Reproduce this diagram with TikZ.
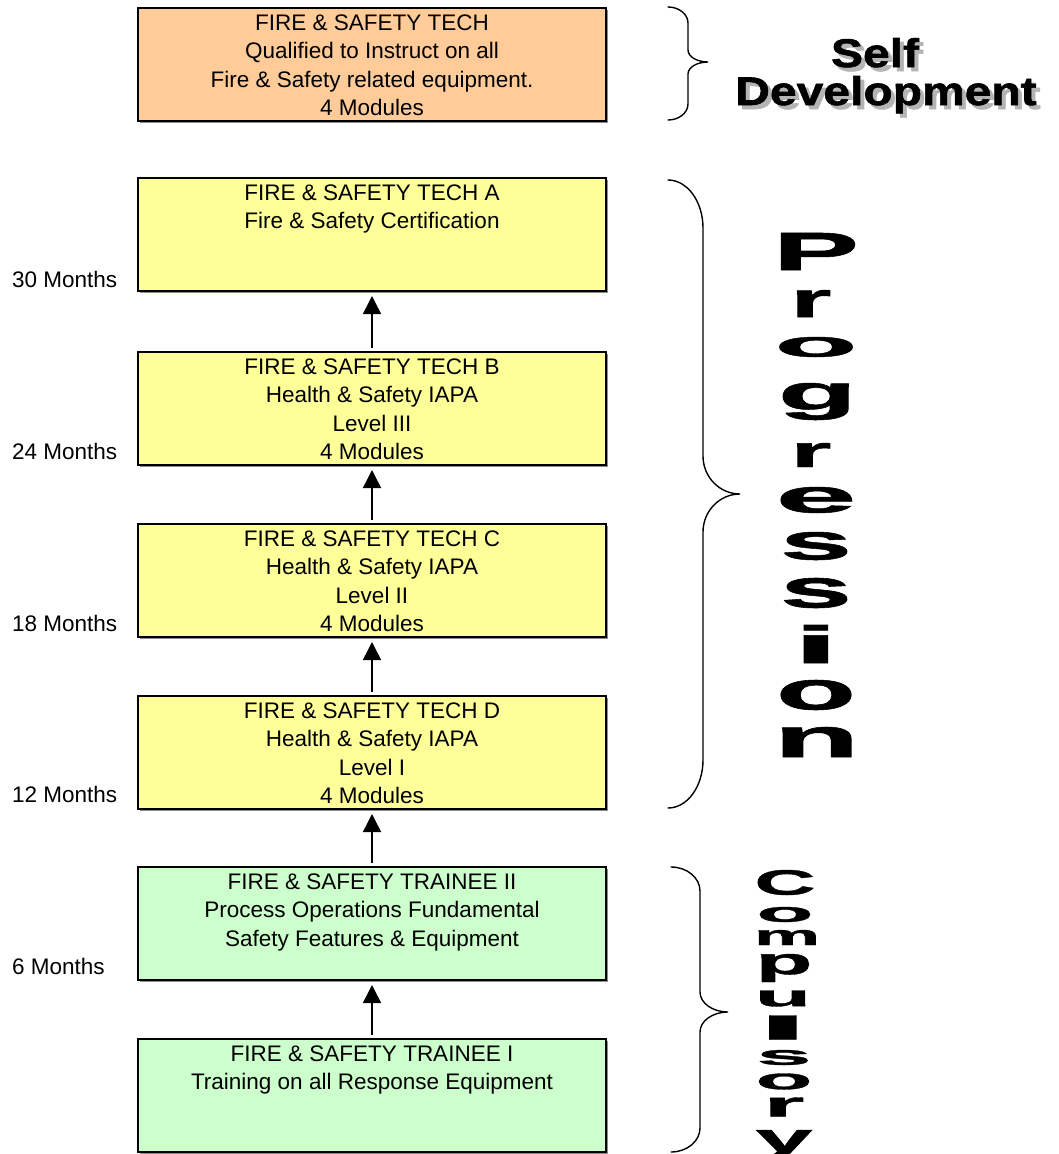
\documentclass[tikz,border=0pt]{standalone}
\usepackage{graphicx}
\usepackage{fontspec}
\setmainfont{Liberation Sans}
\newfontfamily\heavyfont{Liberation Sans}[FakeBold=1]
\newfontfamily\bannerfont{Liberation Sans}[FakeBold=1.5,FakeStretch=1.2]
\usetikzlibrary{arrows.meta,shadows}

\definecolor{selfcol}{HTML}{FFCC99}
\definecolor{progcol}{HTML}{FFFF99}
\definecolor{compcol}{HTML}{CCFFCC}
\definecolor{shadowgray}{HTML}{B4B4B4}

\tikzset{
  stagebox/.style={draw=black, line width=1.5pt, inner sep=0pt, outer sep=0pt, anchor=north west,
    drop shadow={shadow xshift=1.5pt, shadow yshift=-1.5pt, fill=black!45, opacity=1}},
  steparrow/.style={-{Triangle[width=18pt,length=18pt]}, line width=1.5pt, shorten <=4pt, shorten >=5pt},
  monthlabel/.style={anchor=base west, inner sep=0pt, font=\fontsize{22.5pt}{27pt}\selectfont},
  bracestyle/.style={line width=1.4pt, line cap=round},
  bannerword/.style={anchor=base, inner sep=0pt, font=\bannerfont\bfseries\fontsize{40pt}{40pt}\selectfont},
}

% text block of a stage box, lines set from the top
\newcommand\stagetext[1]{\parbox[t][113pt][t]{468pt}{\centering\fontsize{22.5pt}{28.5pt}\selectfont\rule{0pt}{22.4pt}#1}}

% one stretched letter of a vertical word
\newcommand\wordletter[6]{\node[inner sep=0pt, outer sep=0pt] (#1) at (#2,#3) {\resizebox*{#4pt}{#5pt}{\heavyfont\bfseries #6}};}

% curly brace: x0, x of stem, x of tip, y top, y tip, y bottom, end radius, tip radius
\newcommand\curlybrace[8]{%
  \draw[bracestyle] (#1,#4) .. controls ({#1+0.552*(#2-#1)},#4) and (#2,{#4+0.448*#7}) .. (#2,{#4+#7})
    -- (#2,{#5-#8}) .. controls (#2,{#5-0.448*#8}) and ({#3-0.552*(#3-#2)},#5) .. (#3,#5)
    .. controls ({#3-0.552*(#3-#2)},#5) and (#2,{#5+0.448*#8}) .. (#2,{#5+#8})
    -- (#2,{#6-#7}) .. controls (#2,{#6-0.448*#7}) and ({#1+0.552*(#2-#1)},#6) .. (#1,#6);}

\begin{document}
\begin{tikzpicture}[x=1pt, y=-1pt]
\useasboundingbox (0,0) rectangle (1059,1154);

% stage boxes
\node[stagebox, fill=selfcol] (instructor) at (138,8) {\stagetext{FIRE \& SAFETY TECH\\Qualified to Instruct on all\\Fire \& Safety related equipment.\\4 Modules}};
\node[stagebox, fill=progcol] (techA) at (138,178) {\stagetext{FIRE \& SAFETY TECH A\\Fire \& Safety Certification}};
\node[stagebox, fill=progcol] (techB) at (138,352) {\stagetext{FIRE \& SAFETY TECH B\\Health \& Safety IAPA\\Level III\\4 Modules}};
\node[stagebox, fill=progcol] (techC) at (138,524) {\stagetext{FIRE \& SAFETY TECH C\\Health \& Safety IAPA\\Level II\\4 Modules}};
\node[stagebox, fill=progcol] (techD) at (138,696) {\stagetext{FIRE \& SAFETY TECH D\\Health \& Safety IAPA\\Level I\\4 Modules}};
\node[stagebox, fill=compcol] (trainee2) at (138,867) {\stagetext{FIRE \& SAFETY TRAINEE II\\Process Operations Fundamental\\Safety Features \& Equipment}};
\node[stagebox, fill=compcol] (trainee1) at (138,1039) {\stagetext{FIRE \& SAFETY TRAINEE I\\Training on all Response Equipment}};

% progression arrows
\draw[steparrow] (trainee1.north) -- (trainee2.south);
\draw[steparrow] (trainee2.north) -- (techD.south);
\draw[steparrow] (techD.north) -- (techC.south);
\draw[steparrow] (techC.north) -- (techB.south);
\draw[steparrow] (techB.north) -- (techA.south);

% time labels
\node[monthlabel] (m30) at (12,287) {30 Months};
\node[monthlabel] (m24) at (12,459) {24 Months};
\node[monthlabel] (m18) at (12,631) {18 Months};
\node[monthlabel] (m12) at (12,802) {12 Months};
\node[monthlabel] (m6) at (12,974) {6 Months};

% braces
\curlybrace{668}{688}{708}{7}{62}{120}{16}{12}
\curlybrace{668}{703}{740}{180}{494}{808}{48}{38}
\curlybrace{671}{700}{728}{867}{1012}{1152}{24}{20}

% Self Development heading with shadow
\node[bannerword, text=shadowgray] (selfshadow) at (879,71) {Self};
\node[bannerword, text=shadowgray] (devshadow) at (890,109) {Development};
\node[bannerword] (selfword) at (875,67) {Self};
\node[bannerword] (devword) at (886,105) {Development};

% Progression, one letter per line
\wordletter{pr1}{816}{251.5}{86}{37}{P}
\wordletter{pr2}{811}{303.5}{41}{27}{r}
\wordletter{pr3}{816}{347}{83}{20}{o}
\wordletter{pr4}{817.5}{401.5}{79}{37}{g}
\wordletter{pr5}{811}{455}{41}{24}{r}
\wordletter{pr6}{816}{500}{81}{26}{e}
\wordletter{pr7}{816}{546}{72}{28}{s}
\wordletter{pr8}{816}{593}{72}{30}{s}
\wordletter{pr9}{816}{644}{46}{38}{i}
\wordletter{pr10}{816}{695}{80}{30}{o}
\wordletter{pr11}{816.5}{742}{86}{30}{n}

% Compulsory, one letter per line
\wordletter{co1}{785}{882.5}{61}{25}{C}
\wordletter{co2}{785}{914.5}{57}{15}{o}
\wordletter{co3}{787}{937.5}{66}{15}{m}
\wordletter{co4}{784}{968}{57}{28}{p}
\wordletter{co5}{783}{998.5}{56}{16}{u}
\wordletter{co6}{783}{1027.5}{52}{24}{l}
\wordletter{co7}{784}{1057.5}{55}{15}{s}
\wordletter{co8}{784}{1081.5}{57}{16}{o}
\wordletter{co9}{784}{1107}{41}{19}{r}
\wordletter{co10}{784}{1145}{57}{30}{y}
\end{tikzpicture}
\end{document}
